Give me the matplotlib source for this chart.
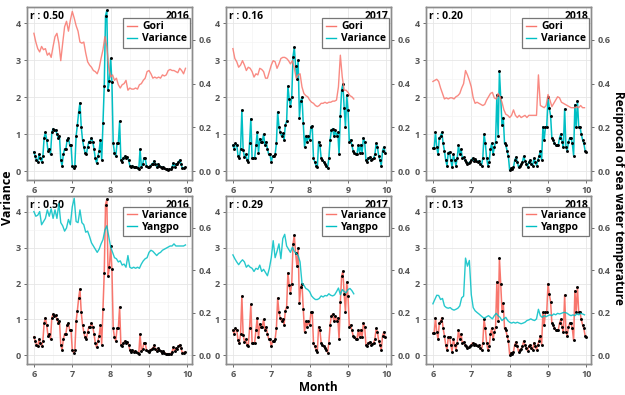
import numpy as np
import matplotlib
matplotlib.use("Agg")
import matplotlib.pyplot as plt
from matplotlib.lines import Line2D
from matplotlib.ticker import MultipleLocator, FormatStrFormatter

plt.rcParams['font.family'] = ['Open Sans', 'DejaVu Sans']

RED = '#F8766D'
TEAL = '#00BFC4'

years = [2016, 2017, 2018]
r_top = ['0.50', '0.16', '0.20']
r_bottom = ['0.50', '0.29', '0.13']

# daily variance (one value per day from 1 June)
var2016 = [0.52, 0.40, 0.30, 0.25, 0.45, 0.35, 0.25, 0.40, 0.90, 1.05,
           0.85, 0.55, 0.60, 0.45, 1.05, 1.15, 1.10, 1.12, 1.00, 0.90,
           0.95, 0.30, 0.15, 0.45, 0.60, 0.60, 0.85, 0.90, 0.70, 0.70,
           0.15, 0.08, 0.15, 0.95, 1.25, 1.60, 1.85, 1.20, 0.85, 0.65,
           0.50, 0.45, 0.65, 0.80, 0.80, 0.90, 0.80, 0.60, 0.35, 0.22,
           0.40, 0.55, 0.85, 0.30, 1.30, 2.30, 4.20, 4.35, 2.20, 2.45,
           3.05, 2.40, 0.75, 0.50, 0.40, 0.75, 0.75, 1.35, 0.30, 0.25,
           0.35, 0.40, 0.35, 0.38, 0.30, 0.15, 0.10, 0.15, 0.10, 0.12,
           0.10, 0.08, 0.05, 0.60, 0.12, 0.18, 0.35, 0.35, 0.15, 0.12,
           0.10, 0.15, 0.18, 0.20, 0.28, 0.18, 0.12, 0.20, 0.15, 0.12,
           0.08, 0.12, 0.08, 0.05, 0.05, 0.03, 0.05, 0.05, 0.10, 0.22,
           0.12, 0.20, 0.18, 0.25, 0.30, 0.20, 0.08, 0.08, 0.10]
var2017 = [0.70, 0.60, 0.75, 0.72, 0.42, 0.35, 0.60, 1.65, 0.58, 0.38,
           0.45, 0.30, 0.25, 0.75, 1.42, 0.35, 0.35, 0.35, 0.70, 1.05,
           0.50, 0.88, 0.78, 0.80, 1.00, 0.70, 0.80, 0.60, 0.45, 0.45,
           0.25, 0.40, 0.40, 0.45, 0.75, 1.60, 1.20, 1.05, 0.95, 1.02,
           0.85, 1.25, 1.35, 2.30, 1.95, 1.75, 2.00, 3.10, 3.35, 2.85,
           2.50, 3.00, 1.45, 1.90, 2.00, 1.30, 0.65, 0.95, 0.80, 0.95,
           0.85, 1.20, 1.22, 0.35, 0.25, 0.15, 0.10, 0.80, 0.70, 0.35,
           0.30, 0.25, 0.20, 0.15, 0.08, 0.35, 0.85, 1.10, 1.15, 0.95,
           1.10, 0.95, 1.05, 0.45, 1.50, 2.20, 2.35, 1.70, 1.20, 2.05,
           1.65, 0.80, 0.85, 0.70, 0.55, 0.50, 0.45, 0.45, 0.70, 0.50,
           0.72, 0.50, 0.90, 0.80, 0.30, 0.25, 0.35, 0.38, 0.30, 0.32,
           0.35, 0.45, 0.75, 0.65, 0.40, 0.30, 0.15, 0.55, 0.65, 0.50]
var2018 = [0.62, 0.62, 1.05, 0.65, 0.45, 0.90, 0.95, 1.05, 0.75, 0.55,
           0.30, 0.15, 0.50, 0.52, 0.30, 0.10, 0.45, 0.30, 0.15, 0.35,
           0.70, 0.45, 0.60, 0.35, 0.38, 0.30, 0.25, 0.20, 0.22, 0.25,
           0.30, 0.35, 0.28, 0.33, 0.28, 0.25, 0.28, 0.20, 0.15, 0.35,
           1.00, 0.75, 0.35, 0.15, 0.25, 0.60, 0.75, 0.45, 0.65, 0.80,
           2.05, 0.95, 2.70, 2.00, 1.25, 1.45, 0.75, 0.70, 0.55, 0.40,
           0.02, 0.08, 0.05, 0.10, 0.30, 0.38, 0.25, 0.10, 0.15, 0.18,
           0.25, 0.40, 0.28, 0.20, 0.12, 0.25, 0.30, 0.20, 0.15, 0.35,
           0.25, 0.15, 0.30, 0.40, 0.55, 0.30, 1.20, 0.85, 1.20, 1.20,
           2.00, 1.70, 1.50, 0.90, 0.85, 0.75, 0.70, 0.70, 0.70, 0.90,
           1.00, 0.80, 0.65, 1.68, 0.65, 0.55, 0.80, 0.90, 0.90, 0.75,
           0.42, 1.80, 1.20, 1.90, 1.20, 1.20, 1.00, 0.85, 0.75, 0.55,
           0.52]

# reciprocal of sea water temperature, one value every 0.05 month from 6.0
gori2016 = [0.63, 0.59, 0.56, 0.545, 0.57, 0.555, 0.56, 0.53, 0.54, 0.52,
            0.57, 0.615, 0.63, 0.585, 0.505, 0.585, 0.66, 0.685, 0.64, 0.69,
            0.73, 0.70, 0.665, 0.64, 0.59, 0.585, 0.59, 0.54, 0.50, 0.485,
            0.475, 0.46, 0.455, 0.445, 0.47, 0.515, 0.555, 0.615, 0.57, 0.475,
            0.43, 0.44, 0.415, 0.425, 0.395, 0.38, 0.395, 0.40, 0.415, 0.37,
            0.38, 0.375, 0.375, 0.38, 0.375, 0.395, 0.40, 0.415, 0.425, 0.455,
            0.46, 0.445, 0.425, 0.43, 0.425, 0.43, 0.425, 0.44, 0.435, 0.44,
            0.46, 0.465, 0.46, 0.46, 0.455, 0.45, 0.47, 0.46, 0.445, 0.47]
gori2017 = [0.56, 0.515, 0.50, 0.475, 0.485, 0.505, 0.485, 0.46, 0.475, 0.47,
            0.455, 0.43, 0.445, 0.44, 0.47, 0.465, 0.455, 0.425, 0.425, 0.455,
            0.485, 0.505, 0.50, 0.47, 0.49, 0.515, 0.52, 0.52, 0.515, 0.505,
            0.49, 0.505, 0.47, 0.425, 0.44, 0.445, 0.385, 0.355, 0.345, 0.34,
            0.325, 0.315, 0.31, 0.30, 0.295, 0.30, 0.31, 0.31, 0.315, 0.31,
            0.315, 0.315, 0.32, 0.32, 0.325, 0.385, 0.53, 0.43, 0.37, 0.37,
            0.36, 0.345, 0.34, 0.33]
gori2018 = [0.41, 0.415, 0.42, 0.41, 0.38, 0.355, 0.33, 0.335, 0.33, 0.335,
            0.335, 0.33, 0.34, 0.345, 0.355, 0.38, 0.40, 0.46, 0.44, 0.415,
            0.385, 0.335, 0.31, 0.315, 0.31, 0.305, 0.30, 0.305, 0.325, 0.34,
            0.355, 0.36, 0.335, 0.33, 0.355, 0.34, 0.315, 0.28, 0.26, 0.255,
            0.245, 0.255, 0.28, 0.255, 0.245, 0.255, 0.245, 0.25, 0.255, 0.245,
            0.255, 0.255, 0.255, 0.255, 0.255, 0.44, 0.30, 0.295, 0.29, 0.30,
            0.35, 0.325, 0.295, 0.31, 0.325, 0.34, 0.335, 0.315, 0.31, 0.305,
            0.30, 0.295, 0.29, 0.29, 0.29, 0.295, 0.29, 0.30, 0.29, 0.29]
yangpo2016 = [0.677, 0.655, 0.66, 0.677, 0.615, 0.63, 0.645, 0.685, 0.655, 0.69,
              0.645, 0.685, 0.645, 0.715, 0.625, 0.61, 0.585, 0.60, 0.64, 0.615,
              0.70, 0.74, 0.63, 0.625, 0.685, 0.625, 0.615, 0.58, 0.585, 0.56,
              0.53, 0.515, 0.50, 0.485, 0.50, 0.525, 0.545, 0.59, 0.61, 0.56,
              0.51, 0.485, 0.46, 0.455, 0.44, 0.445, 0.425, 0.43, 0.415, 0.47,
              0.415, 0.41, 0.415, 0.41, 0.415, 0.41, 0.43, 0.445, 0.455, 0.46,
              0.485, 0.495, 0.49, 0.48, 0.47, 0.48, 0.485, 0.495, 0.50, 0.505,
              0.51, 0.515, 0.515, 0.525, 0.515, 0.515, 0.515, 0.515, 0.515, 0.52]
yangpo2017 = [0.473, 0.455, 0.44, 0.427, 0.44, 0.45, 0.44, 0.415, 0.425, 0.415,
              0.41, 0.395, 0.41, 0.405, 0.425, 0.395, 0.405, 0.39, 0.375, 0.41,
              0.46, 0.54, 0.46, 0.49, 0.525, 0.455, 0.55, 0.57, 0.515, 0.50,
              0.485, 0.51, 0.49, 0.48, 0.47, 0.44, 0.34, 0.33, 0.315, 0.31,
              0.30, 0.28, 0.27, 0.263, 0.263, 0.268, 0.28, 0.275, 0.282, 0.28,
              0.29, 0.283, 0.28, 0.285, 0.30, 0.317, 0.286, 0.31, 0.30, 0.295,
              0.31, 0.315, 0.305, 0.29]
yangpo2018 = [0.243, 0.263, 0.283, 0.282, 0.263, 0.268, 0.233, 0.225, 0.222, 0.225,
              0.217, 0.213, 0.217, 0.222, 0.233, 0.271, 0.279, 0.458, 0.42, 0.447,
              0.286, 0.225, 0.21, 0.202, 0.195, 0.187, 0.179, 0.176, 0.182, 0.187,
              0.179, 0.172, 0.187, 0.198, 0.187, 0.179, 0.164, 0.172, 0.179, 0.164,
              0.156, 0.152, 0.156, 0.152, 0.156, 0.152, 0.149, 0.152, 0.156, 0.164,
              0.167, 0.172, 0.167, 0.164, 0.172, 0.217, 0.187, 0.179, 0.187, 0.182,
              0.187, 0.191, 0.187, 0.195, 0.191, 0.198, 0.195, 0.198, 0.202, 0.202,
              0.198, 0.191, 0.187, 0.191, 0.187, 0.195, 0.191, 0.198, 0.195, 0.191]

variances = [var2016, var2017, var2018]
gori = [gori2016, gori2017, gori2018]
yangpo = [yangpo2016, yangpo2017, yangpo2018]

YLIM = (-0.24, 4.44)
K = 0.169  # right axis / left axis
TICKC = '#555555'


def panel(ax, var, temp, site, top, r, year):
    ax2 = ax.twinx()
    mv = 6 + np.arange(len(var)) / 30
    mt = 6 + np.arange(len(temp)) * 0.05
    var_col = TEAL if top else RED
    site_col = RED if top else TEAL
    ax.plot(mv, var, color=var_col, lw=1.1, zorder=2)
    ax.scatter(mv, var, s=4.5, color='black', zorder=3, linewidths=0)
    ax2.plot(mt, temp, color=site_col, lw=1.0, alpha=0.85)
    ax.set_xlim(5.82, 10.12)
    ax.set_ylim(*YLIM)
    ax2.set_ylim(YLIM[0] * K, YLIM[1] * K)
    ax.set_xticks([6, 7, 8, 9, 10])
    ax.set_yticks([0, 1, 2, 3, 4])
    ax.xaxis.set_minor_locator(MultipleLocator(0.5))
    ax.yaxis.set_minor_locator(MultipleLocator(0.5))
    ax2.set_yticks([0.0, 0.2, 0.4, 0.6])
    ax2.yaxis.set_major_formatter(FormatStrFormatter('%.1f'))
    ax.grid(which='major', color='#e6e6e6', lw=0.6)
    ax.grid(which='minor', color='#f2f2f2', lw=0.4)
    ax.set_axisbelow(True)
    for a in (ax, ax2):
        a.tick_params(which='major', length=2.5, width=0.6, color='#555555',
                      labelsize=6.5, labelcolor=TICKC, pad=2)
        a.tick_params(which='minor', length=0)
        for s in a.spines.values():
            s.set_color('#8c8c8c')
            s.set_linewidth(1.0)
        for lab in a.get_xticklabels() + a.get_yticklabels():
            lab.set_fontweight('bold')
    ax.text(0.02, 0.975, 'r : ' + r, transform=ax.transAxes, ha='left', va='top',
            fontsize=7.5, fontweight='bold')
    ax.text(0.985, 0.975, str(year), transform=ax.transAxes, ha='right', va='top',
            fontsize=7.5, fontweight='bold')
    if top:
        labels = [site, 'Variance']
    else:
        labels = ['Variance', site]
    handles = [Line2D([], [], color=c, lw=1.0) for c in (RED, TEAL)]
    leg = ax2.legend(handles, labels, loc='upper right', bbox_to_anchor=(0.99, 0.935),
                     fontsize=7.5, frameon=True, fancybox=False, handlelength=1.0,
                     handletextpad=0.5, borderpad=0.3, labelspacing=0.1,
                     borderaxespad=0.0)
    leg.get_frame().set_edgecolor('#555555')
    leg.get_frame().set_linewidth(0.9)
    for t in leg.get_texts():
        t.set_fontweight('bold')


fig = plt.figure(figsize=(6.25, 3.95), dpi=100)
lefts = [27, 226, 426]
W, H = 625, 395
for i in range(3):
    ax_top = fig.add_axes([lefts[i] / W, (H - 180) / H, 165 / W, 173 / H])
    panel(ax_top, variances[i], gori[i], 'Gori', True, r_top[i], years[i])
    ax_bot = fig.add_axes([lefts[i] / W, (H - 364) / H, 165 / W, 168 / H])
    panel(ax_bot, variances[i], yangpo[i], 'Yangpo', False, r_bottom[i], years[i])

fig.text(0.012, 0.5, 'Variance', rotation=90, ha='center', va='center',
         fontsize=9, fontweight='bold')
fig.text(0.989, 0.5, 'Reciprocal of sea water temperature', rotation=-90,
         ha='center', va='center', fontsize=8.5, fontweight='bold')
fig.text(0.509, 0.002, 'Month', ha='center', va='bottom', fontsize=8.5, fontweight='bold')

fig.savefig('out.png', dpi=100)
